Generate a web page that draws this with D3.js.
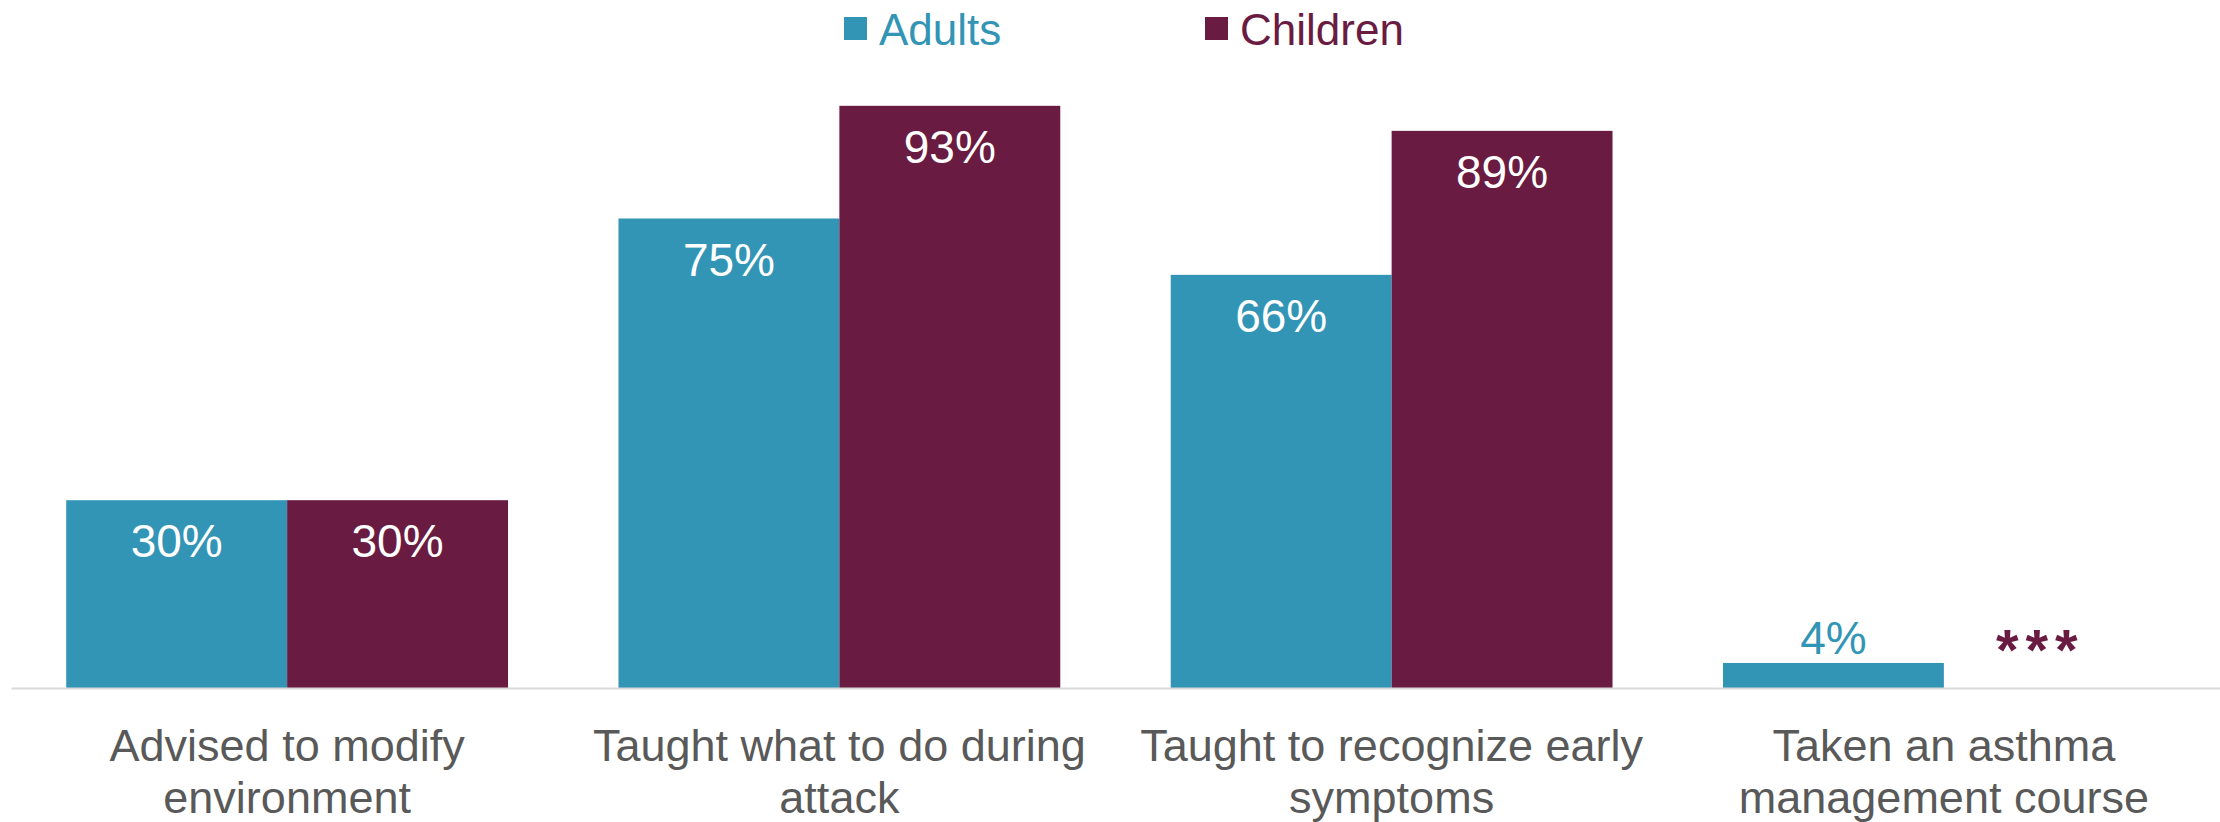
<!DOCTYPE html>
<html>
<head>
<meta charset="utf-8">
<script src="https://cdn.jsdelivr.net/npm/d3@7"></script>
<style>
  body { margin: 0; background: #fff; }
  svg { display: block; font-family: "Liberation Sans", Arial, sans-serif; }
</style>
</head>
<body>
<div id="chart"></div>
<script>
// Data
const categories = [
    "Advised to modify\nenvironment",
    "Taught what to do during\nattack",
    "Taught to recognize early\nsymptoms",
    "Taken an asthma\nmanagement course"
];
const series = ["Adults", "Children"];
const adults = [30, 75, 66, 4];
const children = [30, 93, 89, null]; // *** = not reported

const colors = ["#3395b5", "#6a1b41"];

const width = 2220;
const height = 822;

const svg = d3.select("#chart")
    .append("svg")
    .attr("width", width)
    .attr("height", height);

// Scales
const x0 = d3.scaleBand()
    .domain(categories)
    .range([11, width])
    .paddingInner(0.2)
    .paddingOuter(0.1);

const x1 = d3.scaleBand()
    .domain(series)
    .range([0, x0.bandwidth()]);

const y = d3.scaleLinear()
    .domain([0, 100])
    .range([688, 62]);

const color = d3.scaleOrdinal().domain(series).range(colors);

// rows for the bars
const rows = categories.map((c, i) => ({
    cat: c,
    values: [
        { key: "Adults", value: adults[i] },
        { key: "Children", value: children[i] }
    ]
}));

const groups = svg.selectAll("g.group")
    .data(rows)
    .enter()
    .append("g")
    .attr("class", "group")
    .attr("transform", d => `translate(${x0(d.cat)},0)`);

groups.selectAll("rect")
    .data(d => d.values.filter(v => v.value != null))
    .enter()
    .append("rect")
    .attr("x", d => x1(d.key))
    .attr("width", x1.bandwidth())
    .attr("y", d => y(d.value))
    .attr("height", d => y(0) - y(d.value))
    .attr("fill", d => color(d.key));

// value labels: inside bar if there is room, above it otherwise
const small = d => d.value == null || d.value < 10;

groups.selectAll("text.val")
    .data(d => d.values)
    .enter()
    .append("text")
    .attr("class", "val")
    .attr("x", d => x1(d.key) + x1.bandwidth() / 2)
    .attr("y", d => {
        if (d.value == null) return y(0) - 18; // asterisks sit high in the glyph
        if (d.value < 10) return y(d.value) - 9;
        return y(d.value) + 57;
    })
    .attr("dx", d => d.value == null ? -14 : null)
    .attr("text-anchor", "middle")
    .attr("font-size", d => d.value == null ? 58 : 46)
    .attr("font-weight", d => d.value == null ? "bold" : null)
    .attr("letter-spacing", d => d.value == null ? 7 : null)
    .attr("fill", d => small(d) ? color(d.key) : "#fff")
    .text(d => d.value == null ? "***" : d.value + "%");

// x axis
const axis = svg.append("g")
    .attr("transform", `translate(0,${y(0)})`)
    .call(d3.axisBottom(x0).tickSize(0).tickSizeOuter(0));

axis.select(".domain").attr("stroke", "#d9d9d9").attr("stroke-width", 2);

axis.selectAll(".tick text").each(function(d) {
    const t = d3.select(this);
    t.text(null)
        .attr("y", 0)
        .attr("dy", null)
        .attr("font-size", 45)
        .attr("font-family", "Liberation Sans, Arial, sans-serif")
        .attr("fill", "#595959");
    d.split("\n").forEach((line, i) => {
        t.append("tspan")
            .attr("x", 0)
            .attr("y", 73 + i * 52)
            .text(line);
    });
});

// legend
const legendX = [844, 1205];
const legend = svg.selectAll("g.legend")
    .data(series)
    .enter()
    .append("g")
    .attr("class", "legend")
    .attr("transform", (d, i) => `translate(${legendX[i]},0)`);

legend.append("rect")
    .attr("y", 17)
    .attr("width", 23)
    .attr("height", 23)
    .attr("fill", d => color(d));

legend.append("text")
    .attr("x", 35)
    .attr("y", 45)
    .attr("font-size", 44)
    .attr("fill", d => color(d))
    .text(d => d);
</script>
</body>
</html>
